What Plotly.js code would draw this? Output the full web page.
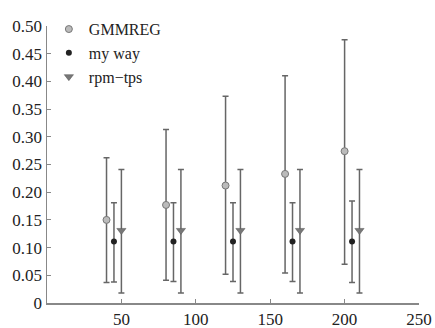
<!DOCTYPE html>
<html><head><meta charset="utf-8">
<script src="https://cdn.plot.ly/plotly-3.0.1.min.js"></script>
<style>
body{margin:0;background:#fff}
#chart{width:435px;height:328px}
#chart svg text{font-family:'Liberation Serif', serif !important;}
</style>
</head><body><div id="chart"></div>
<script>
const seriesNames = ["GMMREG", "my way", "rpm\u2212tps"];
const xGmm = [40, 80, 120, 160, 200];
const xMine = [45, 85, 125, 165, 205];
const xRpm = [50, 90, 130, 170, 210];
const gmmMean = [0.150, 0.177, 0.212, 0.233, 0.274];
const gmmHigh = [0.262, 0.313, 0.373, 0.410, 0.475];
const gmmLow = [0.037, 0.041, 0.052, 0.054, 0.070];
const mineMean = [0.111, 0.111, 0.111, 0.111, 0.111];
const mineHigh = [0.181, 0.181, 0.181, 0.181, 0.184];
const mineLow = [0.038, 0.039, 0.039, 0.039, 0.037];
const rpmMean = [0.131, 0.131, 0.131, 0.131, 0.131];
const rpmHigh = [0.241, 0.241, 0.241, 0.241, 0.241];
const rpmLow = [0.018, 0.018, 0.018, 0.018, 0.018];
const xTicks = [50, 100, 150, 200, 250];
const yTicks = [0, 0.05, 0.10, 0.15, 0.20, 0.25, 0.30, 0.35, 0.40, 0.45, 0.50];
const yTickText = ["0", "0.05", "0.10", "0.15", "0.20", "0.25", "0.30", "0.35", "0.40", "0.45", "0.50"];

function errs(mean, hi, lo) {
  return {type: 'data', symmetric: false,
    array: mean.map((m, i) => hi[i] - m),
    arrayminus: mean.map((m, i) => m - lo[i]),
    color: '#666', thickness: 1.5, width: 3};
}
const traces = [
  {x: xGmm, y: gmmMean, name: seriesNames[0], mode: 'markers', type: 'scatter',
   marker: {symbol: 'circle', size: 7, color: '#bbb', line: {color: '#777', width: 1}},
   error_y: errs(gmmMean, gmmHigh, gmmLow)},
  {x: xMine, y: mineMean, name: seriesNames[1], mode: 'markers', type: 'scatter',
   marker: {symbol: 'circle', size: 6, color: '#222', line: {color: '#222', width: 0}},
   error_y: errs(mineMean, mineHigh, mineLow)},
  {x: xRpm, y: rpmMean, name: seriesNames[2], mode: 'markers', type: 'scatter',
   marker: {symbol: 'triangle-down', size: 8, color: '#777', line: {color: '#555', width: 0.5}},
   error_y: errs(rpmMean, rpmHigh, rpmLow)}
];
const fam = "Liberation Serif";
const layout = {
  width: 435, height: 328,
  margin: {l: 47, r: 16, t: 13, b: 25},
  paper_bgcolor: '#fff', plot_bgcolor: '#fff',
  font: {family: fam, size: 17, color: '#222'},
  showlegend: true,
  legend: {x: 0.005, y: 1.05, xanchor: 'left', yanchor: 'top', bgcolor: 'rgba(0,0,0,0)',
    font: {family: fam, size: 16, color: '#222'}, itemwidth: 30, tracegroupgap: 0},
  xaxis: {range: [0, 250], tickvals: xTicks, ticktext: xTicks.map(String),
    showgrid: false, zeroline: false, showline: true, linecolor: '#888', linewidth: 1.5,
    ticks: 'inside', ticklen: 4, tickcolor: '#888', tickfont: {family: fam, size: 17, color: '#222'}},
  yaxis: {range: [0, 0.5], tickvals: yTicks, ticktext: yTickText,
    showgrid: false, zeroline: false, showline: true, linecolor: '#888', linewidth: 1.5,
    ticks: 'inside', ticklen: 4, tickcolor: '#888', tickfont: {family: fam, size: 17, color: '#222'}}
};
Plotly.newPlot('chart', traces, layout, {staticPlot: true, displayModeBar: false});
</script></body></html>
